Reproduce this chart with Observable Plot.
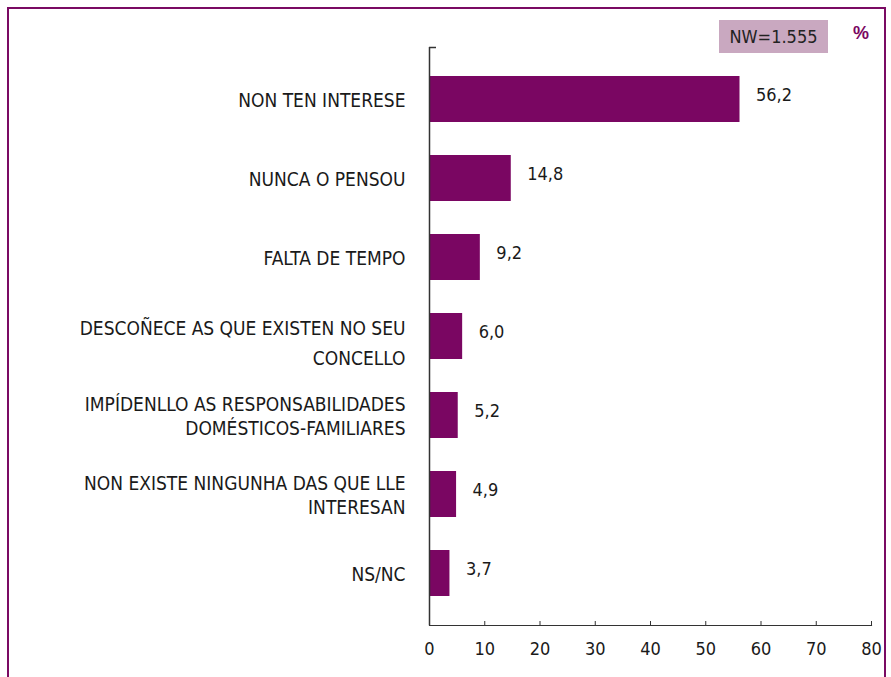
<!DOCTYPE html>
<html>
<head>
<meta charset="utf-8">
<script src="https://cdn.jsdelivr.net/npm/d3@7"></script>
<script src="https://cdn.jsdelivr.net/npm/@observablehq/plot@0.6"></script>
<style>
  html, body { margin: 0; padding: 0; background: #fff; }
  body { width: 891px; height: 677px; position: relative; overflow: hidden;
         font-family: "Liberation Sans Narrow", "DejaVu Sans Condensed", "Liberation Sans", sans-serif; }
  #frame { position: absolute; left: 7px; top: 7px; width: 879px; height: 720px;
           border: 2px solid #7a0a63; box-sizing: border-box; }
  #chart { position: absolute; left: 0; top: 0; }
  #nw { position: absolute; left: 719px; top: 20px; width: 109px; height: 33px;
        background: #c9a8c0; color: #222; font-size: 18px; line-height: 33px; text-align: center; }
  #pct { position: absolute; left: 853px; top: 23px; color: #7a0662; font-size: 18px; font-weight: bold;
         font-family: "Liberation Sans", sans-serif; }
</style>
</head>
<body>
<div id="frame"></div>
<div id="chart"></div>
<div id="nw">NW=1.555</div>
<div id="pct">%</div>
<script>
const categories = [
  "NON TEN INTERESE",
  "NUNCA O PENSOU",
  "FALTA DE TEMPO",
  "DESCOÑECE AS QUE EXISTEN NO SEU\nCONCELLO",
  "IMPÍDENLLO AS RESPONSABILIDADES\nDOMÉSTICOS-FAMILIARES",
  "NON EXISTE NINGUNHA DAS QUE LLE\nINTERESAN",
  "NS/NC"
];
const values = [56.2, 14.8, 9.2, 6.0, 5.2, 4.9, 3.7];
const xTicks = [0, 10, 20, 30, 40, 50, 60, 70, 80];

const data = categories.map((c, i) => ({cat: c, value: values[i]}));
const fmt = v => v.toFixed(1).replace(".", ",");
const barColor = "#7a0662";
const font = "\"Liberation Sans Narrow\", \"DejaVu Sans Condensed\", sans-serif";

const plot = Plot.plot({
  width: 891,
  height: 677,
  marginLeft: 429,
  marginRight: 20,
  marginTop: 47,
  marginBottom: 52,
  style: {fontFamily: font, fontSize: "18px", color: "#1a1a1a", background: "transparent"},
  x: {domain: [0, 80], ticks: xTicks, tickFormat: d => String(d), label: null},
  y: {domain: categories, paddingInner: 0.42, paddingOuter: 0.36, axis: null},
  marks: [
    Plot.barX(data, {x: "value", y: "cat", fill: barColor}),
    Plot.ruleX([0], {stroke: "#333", strokeWidth: 1.5}),
    Plot.frame({anchor: "bottom", stroke: "#333", strokeWidth: 1.2}),
    Plot.axisX({ticks: xTicks, tickSize: -4, tickPadding: 21, stroke: "#333", fontSize: 18, label: null, tickFormat: d => String(d)}),
    Plot.text(data, {x: "value", y: "cat", text: d => fmt(d.value), textAnchor: "start", dx: 16, dy: -4, fontSize: 18, fill: "#1a1a1a"}),
    Plot.text(data.filter((d, i) => i !== 3), {y: "cat", text: "cat", frameAnchor: "left", textAnchor: "end", dx: -24, dy: 0, fontSize: 19, lineHeight: 1.25, fill: "#1a1a1a"}),
    Plot.text(data.filter((d, i) => i === 3), {y: "cat", text: "cat", frameAnchor: "left", textAnchor: "end", dx: -24, dy: 4, fontSize: 19, lineHeight: 1.6, fill: "#1a1a1a"})
  ]
});
document.getElementById("chart").appendChild(plot);

// small cap tick at the top of the vertical axis, positioned from the scale
const x0 = plot.scale("x").apply(0);
d3.select(plot).append("line")
  .attr("x1", x0).attr("x2", x0 + 7)
  .attr("y1", 47.5).attr("y2", 47.5)
  .attr("stroke", "#333").attr("stroke-width", 1.5);
</script>
</body>
</html>
